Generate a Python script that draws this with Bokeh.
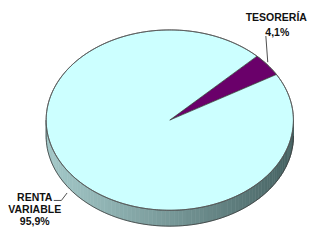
import numpy as np
from bokeh.plotting import figure
from bokeh.models import Range1d
from bokeh.embed import file_html
from bokeh.resources import INLINE
from bokeh.core.properties import value

# ---- data ----
categories = ["TESORERÍA", "RENTA VARIABLE"]
shares = [4.1, 95.9]
share_labels = ["4,1%", "95,9%"]
top_colors = ["#6a006a", "#ccffff"]

# ---- layout / style ----
W, H = 311, 228
cx, cy, a, b, depth = 178.0, 128.0, 130.0, 96.5, 17.0
start_deg = 30.4
edge = "#3a3a3a"

p = figure(width=W, height=H, output_backend="svg", toolbar_location=None,
           x_range=Range1d(0, 327), y_range=Range1d(244, 0),
           min_border=0, background_fill_color="white", border_fill_color="white")
p.axis.visible = False
p.grid.visible = False
p.outline_line_color = None

def pt(t):
    return cx + a * np.cos(t), cy - b * np.sin(t)

# ---- side (lower half of the ellipse, extruded) ----
N = 90
ts = np.linspace(np.pi, 2 * np.pi, N + 1)
c0 = np.array([0xa3, 0xc8, 0xc8], float)
c1 = np.array([0x46, 0x62, 0x62], float)
xs_list, ys_list, cols = [], [], []
for i in range(N):
    t0, t1 = ts[i], ts[i + 1]
    x0, y0 = pt(t0)
    x1, y1 = pt(t1)
    xs_list.append([x0, x1, x1, x0])
    ys_list.append([y0, y1, y1 + depth, y0 + depth])
    f = ((x0 + x1) / 2 - (cx - a)) / (2 * a)
    f = min(max(f, 0), 1) ** 1.1
    c = c0 + (c1 - c0) * f
    cols.append("#%02x%02x%02x" % tuple(int(round(v)) for v in c))
p.patches(xs_list, ys_list, fill_color=cols, line_color=cols, line_width=0.6)

# side outline
ox, oy = pt(ts)
p.line(ox, oy + depth, line_color=edge, line_width=0.8)
lx, ly = pt(np.array([np.pi]))
p.line([lx[0], lx[0]], [ly[0], ly[0] + depth], line_color=edge, line_width=0.8)

# ---- top face slices ----
total = sum(shares)
ang = np.deg2rad(start_deg)
for cat, s, col in zip(categories, shares, top_colors):
    span = 2 * np.pi * s / total
    tt = np.linspace(ang, ang + span, max(int(span * 60), 4))
    x, y = pt(tt)
    p.patch(np.concatenate([[cx], x, [cx]]), np.concatenate([[cy], y, [cy]]),
            fill_color=col, line_color=edge, line_width=0.7)
    ang += span

# ellipse outline
ta = np.linspace(0, 2 * np.pi, 300)
ex, ey = pt(ta)
p.line(ex, ey, line_color="#555555", line_width=0.8)

# ---- labels ----
font = value("Liberation Sans")
p.text(x=[290, 291], y=[18, 34], text=[categories[0], share_labels[0]],
       text_font=font, text_font_size="10.5px", text_font_style="bold",
       text_align="center", text_baseline="middle", text_color="#111111")
p.line([279, 281], [38, 66], line_color="#222222", line_width=0.8)

p.text(x=[36, 36, 36], y=[210, 223, 236], text=["RENTA", "VARIABLE", share_labels[1]],
       text_font=font, text_font_size="10.5px", text_font_style="bold",
       text_align="center", text_baseline="middle", text_color="#111111")
p.line([56, 64, 70], [214, 214, 206], line_color="#222222", line_width=0.8)

open("out.html", "w").write(file_html(p, INLINE))
